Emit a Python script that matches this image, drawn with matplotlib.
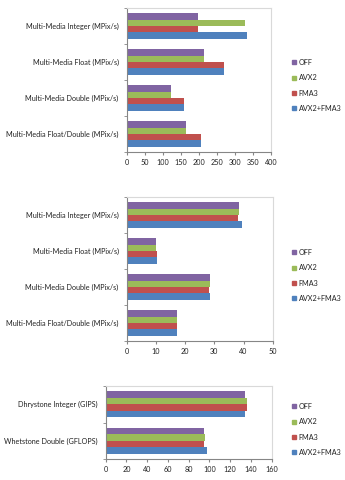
import numpy as np
import matplotlib
matplotlib.use("Agg")
import matplotlib.pyplot as plt
from matplotlib.patches import Patch

plt.rcParams['font.family'] = ['Lato', 'DejaVu Sans']

series = ["OFF", "AVX2", "FMA3", "AVX2+FMA3"]
colors = ["#8064A2", "#9BBB59", "#C0504D", "#4F81BD"]

# chart 1 - multi-media, integer/float
cats1 = ["Multi-Media Integer (MPix/s)", "Multi-Media Float (MPix/s)",
         "Multi-Media Double (MPix/s)", "Multi-Media Float/Double (MPix/s)"]
off1 = [198, 215, 122, 163]
avx1 = [328, 215, 122, 163]
fma1 = [198, 270, 157, 206]
both1 = [334, 270, 157, 206]
xt1 = [0, 50, 100, 150, 200, 250, 300, 350, 400]

# chart 2
cats2 = cats1
off2 = [38.6, 10.1, 28.4, 17.0]
avx2 = [38.6, 10.1, 28.6, 17.2]
fma2 = [38.0, 10.3, 28.2, 17.0]
both2 = [39.5, 10.3, 28.4, 17.2]
xt2 = [0, 10, 20, 30, 40, 50]

# chart 3
cats3 = ["Dhrystone Integer (GIPS)", "Whetstone Double (GFLOPS)"]
off3 = [134.5, 95]
avx3 = [136, 96]
fma3 = [136.5, 94.5]
both3 = [134, 97.5]
xt3 = [0, 20, 40, 60, 80, 100, 120, 140, 160]

W, H = 345, 480
fig = plt.figure(figsize=(W / 100, H / 100), dpi=100)

def box(l, t, r, b):
    return [l / W, 1 - b / H, (r - l) / W, (b - t) / H]

def chart(rect, cats, vals, xt, leg_top):
    ax = fig.add_axes(box(*rect))
    n = len(cats)
    y = np.arange(n)
    bh = 0.175
    for i, (v, c) in enumerate(zip(vals, colors)):
        ax.barh(y + (i - 1.5) * bh, v, height=bh, color=c, label=series[i])
    ax.set_ylim(n - 0.5, -0.5)
    ax.set_xlim(xt[0], xt[-1])
    ax.set_xticks(xt)
    ax.set_yticks(y)
    ax.set_yticklabels(cats)
    ax.set_yticks(np.arange(n + 1) - 0.5, minor=True)
    ax.tick_params(axis='y', which='major', length=0, pad=6, labelsize=5.2, colors='#222222')
    ax.tick_params(axis='y', which='minor', length=2, color='#868686')
    ax.tick_params(axis='x', length=2, pad=3, labelsize=5.2, colors='#222222', color='#868686')
    for s in ['left', 'bottom']:
        ax.spines[s].set_color('#868686')
        ax.spines[s].set_linewidth(0.8)
    for s in ['top', 'right']:
        ax.spines[s].set_color('#D9D9D9')
        ax.spines[s].set_linewidth(0.8)
    handles = [Patch(color=c, label=s) for c, s in zip(colors, series)]
    fig.legend(handles=handles, loc='upper left', bbox_to_anchor=(292 / W, 1 - leg_top / H),
               frameon=False, fontsize=5.2, handlelength=0.5, handleheight=0.5,
               handletextpad=0.45, labelspacing=1.15, borderpad=0, borderaxespad=0,
               labelcolor='#222222')
    return ax

chart((127, 8, 271, 152), cats1, [off1, avx1, fma1, both1], xt1, 59)
chart((127, 197, 272.7, 341), cats2, [off2, avx2, fma2, both2], xt2, 249)
chart((105.7, 386, 271.7, 459), cats3, [off3, avx3, fma3, both3], xt3, 403)

fig.savefig("out.png", dpi=100)
